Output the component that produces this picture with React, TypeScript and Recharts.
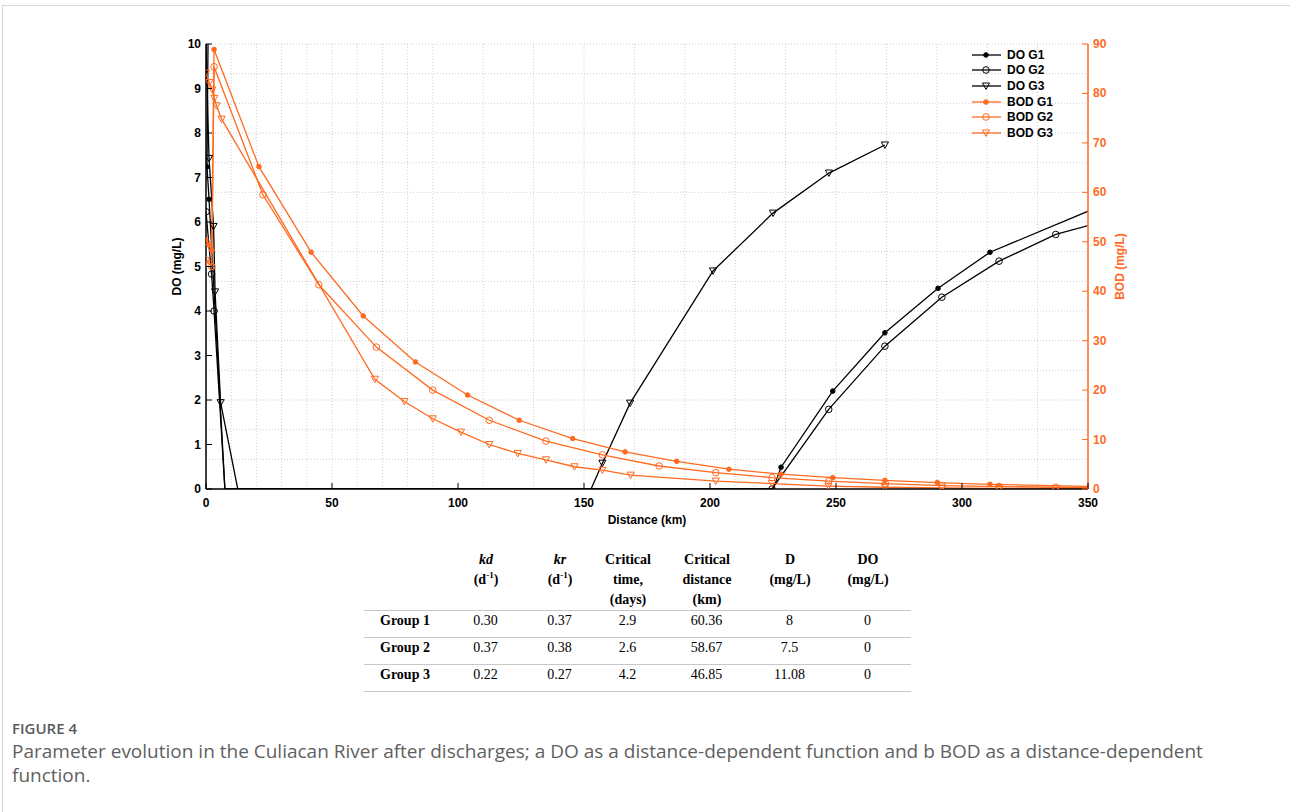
import React from 'react';
import { LineChart, Line, XAxis, YAxis, CartesianGrid, Legend } from 'recharts';

// [distance km, value, marker? (0 = no marker)]
type Pt = [number, number, number?];

const X_TICKS = [0, 50, 100, 150, 200, 250, 300, 350];
const DO_TICKS = [0, 1, 2, 3, 4, 5, 6, 7, 8, 9, 10];
const BOD_TICKS = [0, 10, 20, 30, 40, 50, 60, 70, 80, 90];
const X_MINOR = Array.from({ length: 36 }, (_, i) => i * 10);
const BOD_MINOR = Array.from({ length: 46 }, (_, i) => i * 2);

const DO_G1: Pt[] = [
  [0.8, 10, 0], [0.4, 7.24], [1.2, 6.51], [7.5, 0, 0],
  [225, 0, 0], [228.2, 0.49], [248.7, 2.2], [269.4, 3.51], [290.5, 4.51], [311.1, 5.32], [352, 6.29, 0],
];
const DO_G2: Pt[] = [
  [0, 6.23], [2.2, 4.83], [3.2, 4.0], [7.5, 0, 0],
  [224.6, 0], [247.1, 1.79], [269.4, 3.21], [292, 4.31], [314.7, 5.12], [337.2, 5.72], [359.6, 6.07, 0],
];
const DO_G3: Pt[] = [
  [0, 10, 0], [1.2, 7.43], [3.0, 5.9], [3.6, 4.43], [5.8, 1.94], [12.6, 0, 0],
  [152.8, 0, 0], [157.3, 0.58], [168.3, 1.93], [201.2, 4.9], [225, 6.2], [247.2, 7.1], [269.4, 7.73],
];
const BOD_G1: Pt[] = [
  [0, 50.4], [1.1, 49.4], [2.3, 48.3], [3.2, 88.9], [21.0, 65.2], [41.7, 47.9], [62.4, 35.0],
  [83.1, 25.7], [103.8, 19.0], [124.3, 13.9], [145.5, 10.2], [166.3, 7.5], [186.8, 5.6],
  [207.5, 4.0], [228.2, 3.0], [248.7, 2.3], [269.4, 1.75], [290.2, 1.3], [311.1, 0.95], [352, 0.5, 0],
];
const BOD_G2: Pt[] = [
  [0, 46.3], [1.2, 45.6], [2.3, 45.0], [3.2, 85.4], [22.6, 59.5], [44.8, 41.3], [67.6, 28.7],
  [90, 20.0], [112.4, 13.9], [134.9, 9.7], [157.3, 6.9], [179.8, 4.65], [202.3, 3.3],
  [224.6, 2.3], [247.1, 1.6], [269.6, 1.1], [292, 0.7], [314.7, 0.5], [337.2, 0.35], [359.6, 0.25, 0],
];
const BOD_G3: Pt[] = [
  [0, 84.1], [1.3, 82.2], [2.5, 80.7], [3.3, 79.0], [4.2, 77.5], [6.2, 74.8], [67, 22.2],
  [78.7, 17.7], [90, 14.2], [101.2, 11.5], [112.4, 9.0], [123.7, 7.2], [134.9, 5.9], [146.2, 4.5],
  [157.3, 3.8], [168.5, 2.8], [202.3, 1.6], [224.6, 1.1], [247, 0.6], [269.4, 0.35], [292, 0.2],
  [314.7, 0.12], [337.2, 0.08], [359.6, 0.05, 0],
];

const TABLE_HEAD = ['', 'kd', 'kr', 'Critical time, (days)', 'Critical distance (km)', 'D (mg/L)', 'DO (mg/L)'];
const TABLE_ROWS = [
  ['Group 1', '0.30', '0.37', '2.9', '60.36', '8', '0'],
  ['Group 2', '0.37', '0.38', '2.6', '58.67', '7.5', '0'],
  ['Group 3', '0.22', '0.27', '4.2', '46.85', '11.08', '0'],
];

const BLACK = '#000000';
const ORANGE = '#FF6A1F';
const FONT = '"Liberation Sans", Arial, sans-serif';

const toRows = (pts: Pt[]) => pts.map(([x, y, m]) => ({ x, y, m: m ?? 1 }));

const SERIES = [
  { name: 'DO G1', data: DO_G1, color: BLACK, shape: 'dot', axis: 'do' },
  { name: 'DO G2', data: DO_G2, color: BLACK, shape: 'circle', axis: 'do' },
  { name: 'DO G3', data: DO_G3, color: BLACK, shape: 'tri', axis: 'do' },
  { name: 'BOD G1', data: BOD_G1, color: ORANGE, shape: 'dot', axis: 'bod' },
  { name: 'BOD G2', data: BOD_G2, color: ORANGE, shape: 'circle', axis: 'bod' },
  { name: 'BOD G3', data: BOD_G3, color: ORANGE, shape: 'tri', axis: 'bod' },
];

const Marker = ({ shape, color, cx, cy }: any) => {
  if (shape === 'dot') return <circle cx={cx} cy={cy} r={2.3} fill={color} stroke={color} />;
  if (shape === 'circle') return <circle cx={cx} cy={cy} r={3.3} fill="none" stroke={color} strokeWidth={1} />;
  return (
    <polygon
      points={`${cx - 3.6},${cy - 3} ${cx + 3.6},${cy - 3} ${cx},${cy + 3.4}`}
      fill="none"
      stroke={color}
      strokeWidth={1}
    />
  );
};

const makeDot = (shape: string, color: string) => (props: any) => {
  const { cx, cy, payload, index } = props;
  if (cx == null || cy == null || payload.m === 0) return <g key={index} />;
  return <Marker key={index} shape={shape} color={color} cx={cx} cy={cy} />;
};

const XTick = ({ x, y, payload }: any) => (
  <g>
    <line x1={x} y1={y} x2={x} y2={y - 6} stroke={BLACK} strokeWidth={1} />
    <text x={x} y={y + 18} textAnchor="middle" fontSize={12} fontWeight="bold" fontFamily={FONT} fill={BLACK}>
      {payload.value}
    </text>
  </g>
);

const LeftTick = ({ x, y, payload }: any) => (
  <g>
    <line x1={x} y1={y} x2={x + 6} y2={y} stroke={BLACK} strokeWidth={1} />
    <text x={x - 5} y={y + 4} textAnchor="end" fontSize={12} fontWeight="bold" fontFamily={FONT} fill={BLACK}>
      {payload.value}
    </text>
  </g>
);

const RightTick = ({ x, y, payload }: any) => (
  <g>
    <line x1={x} y1={y} x2={x - 6} y2={y} stroke={ORANGE} strokeWidth={1} />
    <text x={x + 5} y={y + 4} textAnchor="start" fontSize={12} fontWeight="bold" fontFamily={FONT} fill={ORANGE}>
      {payload.value}
    </text>
  </g>
);

const LegendBox = () => (
  <div style={{ fontFamily: FONT, fontSize: 12, fontWeight: 'bold' }}>
    {SERIES.map((s) => (
      <div key={s.name} style={{ display: 'flex', alignItems: 'center', height: 15.6 }}>
        <svg width={32} height={12}>
          <line x1={1} y1={6} x2={30} y2={6} stroke={s.color} strokeWidth={1.3} />
          <Marker shape={s.shape} color={s.color} cx={15} cy={6} />
        </svg>
        <span style={{ marginLeft: 4, color: '#000' }}>{s.name}</span>
      </div>
    ))}
  </div>
);

const serif = '"Liberation Serif", "Times New Roman", serif';
const COL_W = [85, 74, 74, 62, 96, 70, 86];

const HeadCell = ({ i }: { i: number }) => {
  if (i === 0) return <span />;
  if (i === 1 || i === 2) {
    return (
      <>
        <i>{TABLE_HEAD[i]}</i>
        <br />
        (d<sup style={{ fontSize: 9, lineHeight: 0 }}>-1</sup>)
      </>
    );
  }
  const parts = TABLE_HEAD[i].split(' ');
  return (
    <>
      {parts.map((p, k) => (
        <React.Fragment key={k}>
          {p}
          {k < parts.length - 1 && <br />}
        </React.Fragment>
      ))}
    </>
  );
};

export default function App() {
  return (
    <div style={{ position: 'absolute', left: 0, top: 0, width: 1290, height: 812, background: '#fff' }}>
      <div
        style={{
          position: 'absolute', left: 2, top: 5, width: 1288, height: 807,
          borderTop: '1px solid #d6d6d6', borderLeft: '1px solid #d6d6d6',
        }}
      />
      <div style={{ position: 'absolute', left: 0, top: 0 }}>
        <LineChart width={1290} height={540} margin={{ top: 44, right: 162, bottom: 11, left: 166 }}>
          <CartesianGrid
            xAxisId="minorX"
            yAxisId="minorY"
            stroke="#cfcfcf"
            strokeDasharray="1 2"
          />
          <XAxis xAxisId="minorX" type="number" dataKey="x" domain={[0, 350]} ticks={X_MINOR} hide allowDataOverflow />
          <YAxis yAxisId="minorY" type="number" domain={[0, 90]} ticks={BOD_MINOR} hide allowDataOverflow />
          <XAxis
            type="number"
            dataKey="x"
            domain={[0, 350]}
            ticks={X_TICKS}
            allowDataOverflow
            height={40}
            tickSize={0}
            tickMargin={0}
            tickLine={false}
            tick={<XTick />}
            axisLine={{ stroke: BLACK, strokeWidth: 1.5 }}
            label={{ value: 'Distance (km)', position: 'center', dy: 11, style: { fontFamily: FONT, fontSize: 12, fontWeight: 'bold', fill: BLACK } }}
          />
          <YAxis
            yAxisId="do"
            type="number"
            domain={[0, 10]}
            ticks={DO_TICKS}
            allowDataOverflow
            width={40}
            tickSize={0}
            tickMargin={0}
            tickLine={false}
            tick={<LeftTick />}
            axisLine={{ stroke: BLACK, strokeWidth: 1.5 }}
            label={{ value: 'DO (mg/L)', angle: -90, position: 'center', dx: -9, style: { fontFamily: FONT, fontSize: 12, fontWeight: 'bold', fill: BLACK } }}
          />
          <YAxis
            yAxisId="bod"
            orientation="right"
            type="number"
            domain={[0, 90]}
            ticks={BOD_TICKS}
            allowDataOverflow
            width={40}
            tickSize={0}
            tickMargin={0}
            tickLine={false}
            tick={<RightTick />}
            axisLine={{ stroke: ORANGE, strokeWidth: 1.5 }}
            label={{ value: 'BOD (mg/L)', angle: -90, position: 'center', dx: 12, style: { fontFamily: FONT, fontSize: 12, fontWeight: 'bold', fill: ORANGE } }}
          />
          {SERIES.map((s) => (
            <Line
              key={s.name}
              yAxisId={s.axis}
              data={toRows(s.data)}
              dataKey="y"
              name={s.name}
              type="linear"
              stroke={s.color}
              strokeWidth={1.3}
              dot={makeDot(s.shape, s.color)}
              activeDot={false}
              isAnimationActive={false}
            />
          ))}
          <Legend
            layout="vertical"
            align="center"
            verticalAlign="middle"
            content={<LegendBox />}
            wrapperStyle={{ left: 971, top: 47, width: 120 }}
          />
        </LineChart>
      </div>

      <table
        style={{
          position: 'absolute', left: 364, top: 550, borderCollapse: 'collapse',
          fontFamily: serif, fontSize: 14, color: '#000', tableLayout: 'fixed', width: 547,
        }}
      >
        <colgroup>
          {COL_W.map((w, i) => <col key={i} style={{ width: w }} />)}
        </colgroup>
        <thead>
          <tr>
            {TABLE_HEAD.map((_, i) => (
              <th
                key={i}
                style={{
                  fontWeight: 'bold', textAlign: 'center', verticalAlign: 'top', lineHeight: '20px',
                  padding: 0, height: 59, borderBottom: '1px solid #c8c8c8',
                }}
              >
                <HeadCell i={i} />
              </th>
            ))}
          </tr>
        </thead>
        <tbody>
          {TABLE_ROWS.map((r) => (
            <tr key={r[0]}>
              {r.map((c, i) => (
                <td
                  key={i}
                  style={{
                    textAlign: i === 0 ? 'left' : 'center', fontWeight: i === 0 ? 'bold' : 'normal',
                    paddingLeft: i === 0 ? 16 : 0, height: 26, paddingTop: 0, paddingBottom: 0,
                    borderBottom: '1px solid #c8c8c8', lineHeight: '20px', verticalAlign: 'top',
                  }}
                >
                  {c}
                </td>
              ))}
            </tr>
          ))}
        </tbody>
      </table>

      <div style={{ position: 'absolute', left: 12, top: 717, width: 1230, fontFamily: '"Open Sans", sans-serif', color: '#555' }}>
        <div style={{ fontSize: 15, lineHeight: '22px', fontWeight: 600, color: '#5a5a5a' }}>FIGURE 4</div>
        <div style={{ fontSize: 19, lineHeight: '23.5px', marginTop: 1, color: '#5f5f5f' }}>
          Parameter evolution in the Culiacan River after discharges; a DO as a distance-dependent function and b BOD as a distance-dependent function.
        </div>
      </div>
    </div>
  );
}
